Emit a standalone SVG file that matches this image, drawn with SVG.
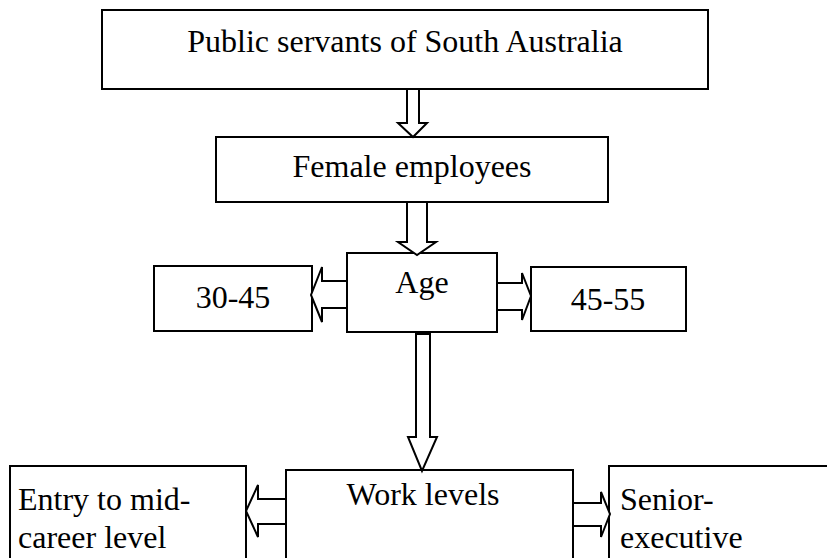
<svg xmlns="http://www.w3.org/2000/svg" width="827" height="558" viewBox="0 0 827 558">
<style>
.box{fill:#fff;stroke:#000;stroke-width:2}
.arr{fill:#fff;stroke:#000;stroke-width:2;stroke-linejoin:miter}
text{font-family:"Liberation Serif","Times New Roman",serif;font-size:32px;fill:#000}
.c{text-anchor:middle}
</style>
<rect width="827" height="558" fill="#fff"/>
<g id="n-public"><rect class="box" x="102" y="10" width="606" height="79"/><text class="c" x="405" y="52">Public servants of South Australia</text></g>
<g id="n-female"><rect class="box" x="216" y="137" width="392" height="65"/><text class="c" x="412" y="177">Female employees</text></g>
<g id="n-age"><rect class="box" x="347" y="253" width="150" height="79"/><text class="c" x="422" y="293">Age</text></g>
<g id="n-3045"><rect class="box" x="154" y="266" width="158" height="65"/><text class="c" x="233" y="308">30-45</text></g>
<g id="n-4555"><rect class="box" x="531" y="267" width="155" height="64"/><text class="c" x="608" y="310">45-55</text></g>
<g id="n-work"><rect class="box" x="286" y="470" width="287" height="100"/><text class="c" x="423" y="505">Work levels</text></g>
<g id="n-entry"><rect class="box" x="10" y="466" width="236" height="104"/><text x="18" y="510">Entry to mid-</text><text x="18" y="548">career level</text></g>
<g id="n-senior"><rect class="box" x="609" y="466" width="230" height="104"/><text x="620" y="510">Senior-</text><text x="620" y="548">executive</text></g>
<g id="connectors">
<polygon class="arr" points="407,89 419,89 419,123 427,123 413,137 398,123 407,123"/>
<polygon class="arr" points="407,202 427,202 427,242 436,242 417,255 398,242 407,242"/>
<polygon class="arr" points="347,281 322,281 322,267 311,295 322,322 322,308 347,308"/>
<polygon class="arr" points="497,283 522,283 522,273 531,296 522,320 522,310 497,310"/>
<polygon class="arr" points="416,334 430,334 430,437 437,437 422,471 408,437 416,437"/>
<polygon class="arr" points="286,499 258,499 258,485 246,511 258,537 258,524 286,524"/>
<polygon class="arr" points="573,503 601,503 601,492 610,514 601,537 601,526 573,526"/>
</g>
</svg>
